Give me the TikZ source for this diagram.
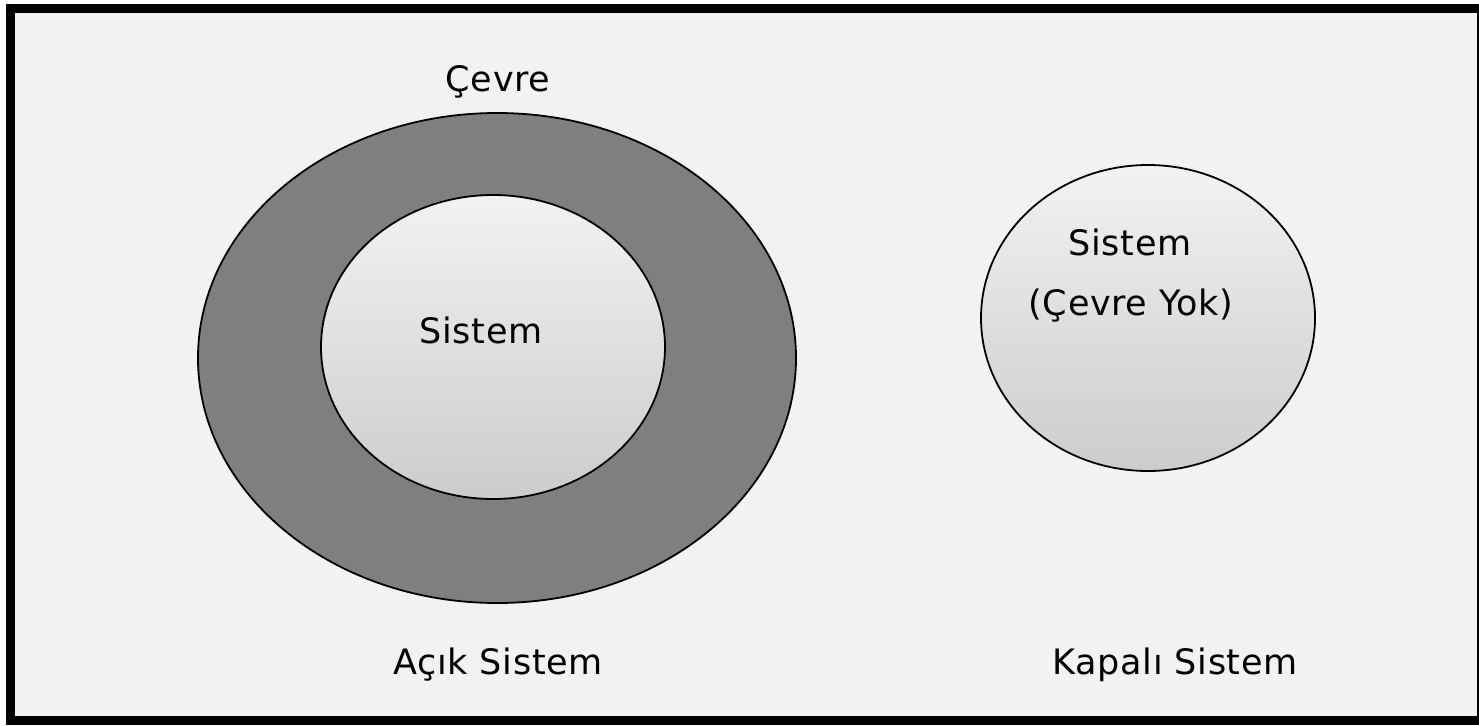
\documentclass[tikz,border=0pt]{standalone}
\usepackage{fontspec}
\setmainfont{DejaVu Sans}[LetterSpace=2]
\usetikzlibrary{shapes.geometric}
\definecolor{paper}{HTML}{F2F2F2}
\definecolor{ring}{HTML}{7F7F7F}
\definecolor{ballTop}{HTML}{F2F2F2}
\definecolor{ballBottom}{HTML}{CCCCCC}
\tikzset{
  label text/.style={font=\fontsize{35}{42}\selectfont, text=black, anchor=base, inner sep=0pt},
  ball/.style={draw=black, line width=1.8pt, top color=ballTop, bottom color=ballBottom},
}
\begin{document}
\begin{tikzpicture}[x=1pt,y=-1pt]
  \useasboundingbox (0,0) rectangle (1479,725);
  % page background and heavy frame
  \fill[white] (0,0) rectangle (1479,725);
  \fill[paper] (10,8) rectangle (1479,720);
  \draw[black, line width=9pt] (10,8.5) rectangle (1481,720);

  % open system: environment ring around the system
  \path[draw=black, line width=1.8pt, fill=ring] (497,358) ellipse [x radius=299, y radius=245];
  \path[ball] (493,347) ellipse [x radius=172, y radius=152];
  % closed system
  \path[ball] (1148,318) ellipse [x radius=167, y radius=153];

  % labels
  \node[label text] (env) at (498,92) {Çevre};
  \node[label text] (sys) at (481,343) {Sistem};
  \node[label text] (csys) at (1130,255) {Sistem};
  \node[label text] (cnote) at (1131,315) {(Çevre Yok)};
  \node[label text] (open) at (498,674) {Açık Sistem};
  \node[label text] (closed) at (1175,674) {Kapalı Sistem};
\end{tikzpicture}
\end{document}
